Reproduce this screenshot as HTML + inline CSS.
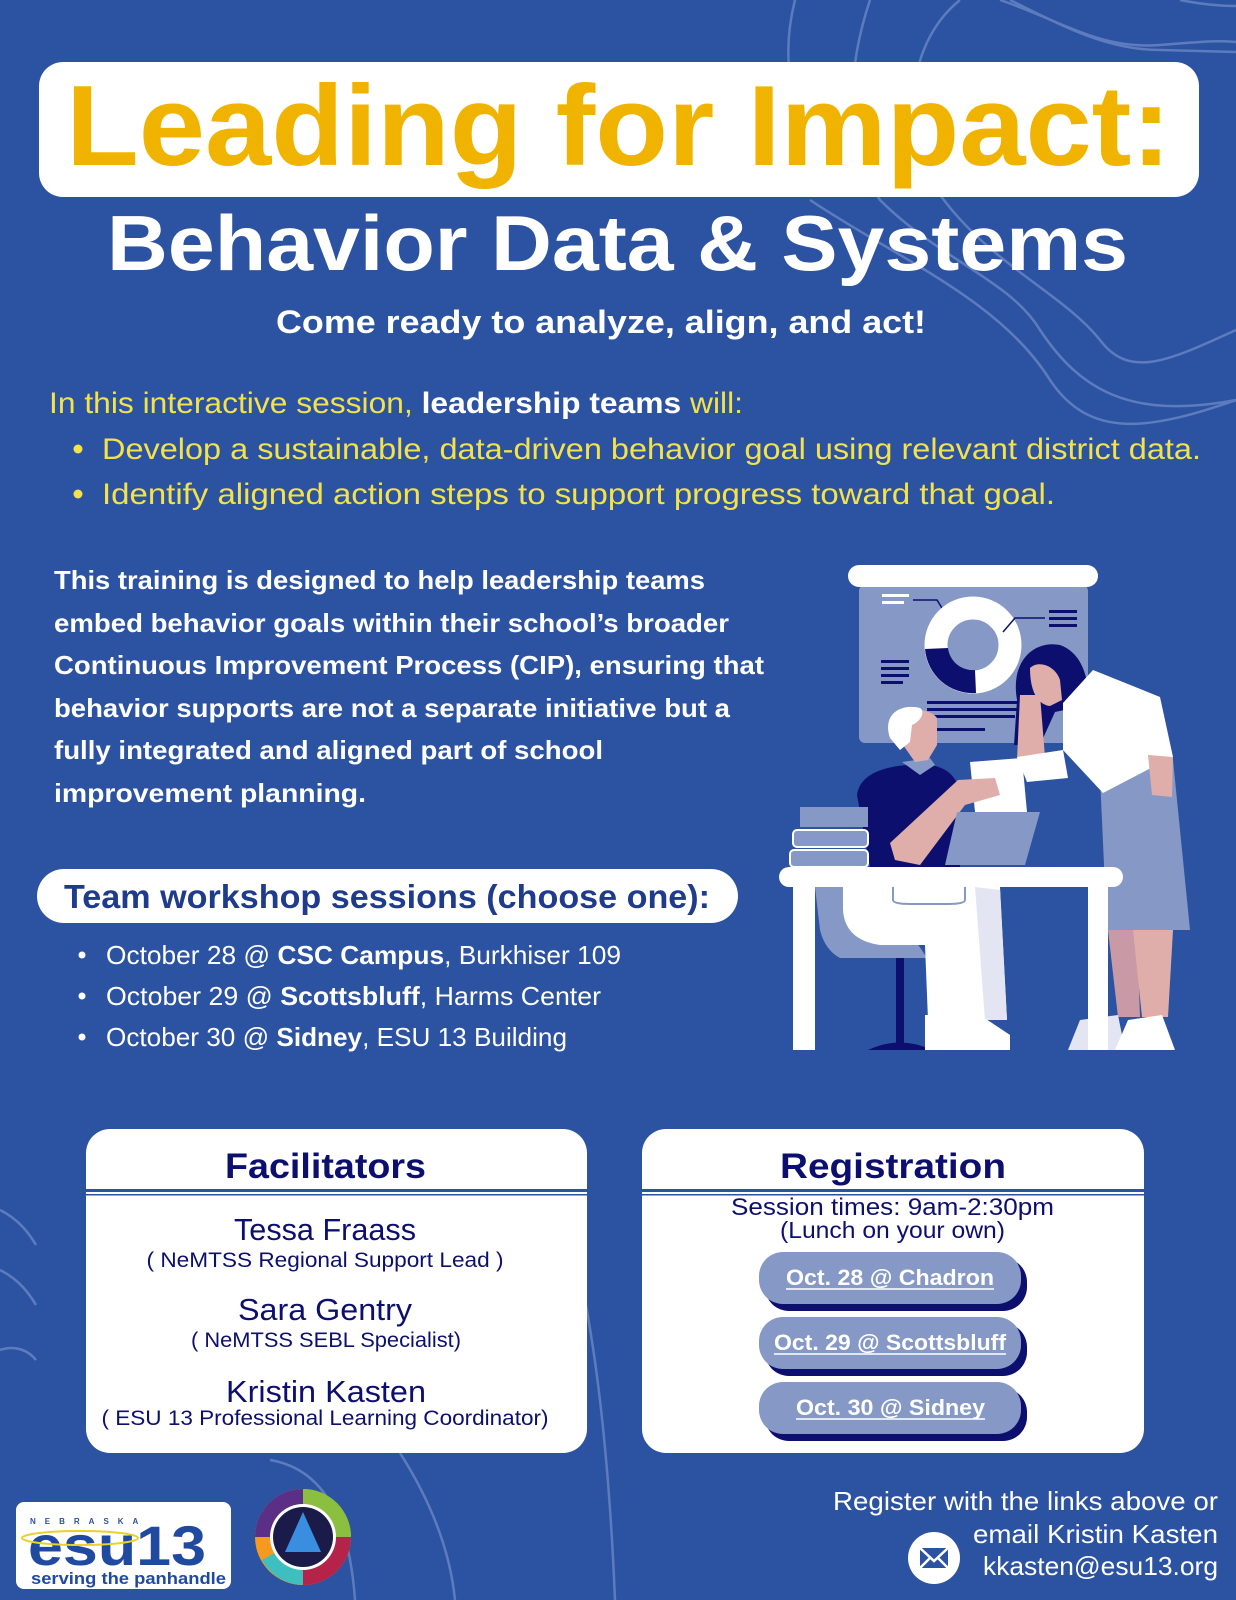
<!DOCTYPE html>
<html><head><meta charset="utf-8"><style>
html,body{margin:0;padding:0;background:#2c52a2;}
svg{display:block;}
text{font-family:"Liberation Sans",sans-serif;}
</style></head><body>
<svg width="1236" height="1600" viewBox="0 0 1236 1600" xmlns="http://www.w3.org/2000/svg">
<rect width="1236" height="1600" fill="#2c52a2"/>
<!-- decorative curves -->
<g fill="none" stroke="#6a87c6" stroke-width="2.5" opacity="0.8">
<path d="M795 0 C780 60 790 120 830 160"/>
<path d="M870 0 C850 60 840 140 880 200 C940 260 1010 280 1040 330 C1080 390 1130 420 1236 400"/>
<path d="M960 0 C910 40 900 120 930 180 C980 260 1060 290 1100 340 C1130 380 1170 360 1236 330"/>
<path d="M1000 0 C1060 20 1100 50 1160 45 C1200 42 1220 40 1236 42"/>
<path d="M1010 0 C1070 30 1110 50 1160 50 L1236 52"/>
<path d="M810 200 C900 260 1000 300 1050 380 C1090 440 1150 430 1236 400"/>
<path d="M1180 0 C1200 4 1220 6 1236 6"/>
<path d="M0 1210 C20 1220 30 1235 36 1245"/>
<path d="M0 1270 C20 1280 30 1295 36 1305"/>
<path d="M0 1350 C15 1345 28 1350 36 1360"/>
<path d="M270 1460 C330 1470 350 1530 355 1600"/>
<path d="M400 1453 C430 1500 450 1550 455 1600"/>
<path d="M585 1300 C600 1380 610 1480 615 1600"/>
</g>

<!-- title -->
<rect x="39" y="62" width="1160" height="135" rx="24" fill="#fff"/>
<text x="66" y="165" font-size="114" font-weight="bold" fill="#f0b400" textLength="1105" lengthAdjust="spacingAndGlyphs">Leading for Impact:</text>
<text x="107" y="270" font-size="78" font-weight="bold" fill="#fff" textLength="1021" lengthAdjust="spacingAndGlyphs">Behavior Data &amp; Systems</text>
<text x="276" y="333" font-size="32" font-weight="bold" fill="#fff" textLength="650" lengthAdjust="spacingAndGlyphs">Come ready to analyze, align, and act!</text>

<text x="49" y="413" font-size="30" fill="#f3e24a" textLength="694" lengthAdjust="spacingAndGlyphs">In this interactive session, <tspan font-weight="bold" fill="#fff">leadership teams</tspan> will:</text>
<circle cx="78" cy="449" r="4.5" fill="#f3e24a"/>
<text x="102" y="459" font-size="30" fill="#f3e24a" textLength="1099" lengthAdjust="spacingAndGlyphs">Develop a sustainable, data-driven behavior goal using relevant district data.</text>
<circle cx="78" cy="494" r="4.5" fill="#f3e24a"/>
<text x="102" y="504" font-size="30" fill="#f3e24a" textLength="953" lengthAdjust="spacingAndGlyphs">Identify aligned action steps to support progress toward that goal.</text>

<g font-size="26" font-weight="bold" fill="#fff">
<text x="54" y="589" textLength="651" lengthAdjust="spacingAndGlyphs">This training is designed to help leadership teams</text>
<text x="54" y="632" textLength="675" lengthAdjust="spacingAndGlyphs">embed behavior goals within their school’s broader</text>
<text x="54" y="674" textLength="710" lengthAdjust="spacingAndGlyphs">Continuous Improvement Process (CIP), ensuring that</text>
<text x="54" y="717" textLength="676" lengthAdjust="spacingAndGlyphs">behavior supports are not a separate initiative but a</text>
<text x="54" y="759" textLength="549" lengthAdjust="spacingAndGlyphs">fully integrated and aligned part of school</text>
<text x="54" y="802" textLength="312" lengthAdjust="spacingAndGlyphs">improvement planning.</text>
</g>

<rect x="37" y="869" width="701" height="54" rx="27" fill="#fff"/>
<text x="64" y="908" font-size="33" font-weight="bold" fill="#1f3c8c" textLength="646" lengthAdjust="spacingAndGlyphs">Team workshop sessions (choose one):</text>

<g font-size="26" fill="#fff">
<circle cx="82" cy="955" r="3.5"/><circle cx="82" cy="996" r="3.5"/><circle cx="82" cy="1037" r="3.5"/>
<text x="106" y="964" textLength="515" lengthAdjust="spacingAndGlyphs">October 28 @ <tspan font-weight="bold">CSC Campus</tspan>, Burkhiser 109</text>
<text x="106" y="1005" textLength="495" lengthAdjust="spacingAndGlyphs">October 29 @ <tspan font-weight="bold">Scottsbluff</tspan>, Harms Center</text>
<text x="106" y="1046" textLength="461" lengthAdjust="spacingAndGlyphs">October 30 @ <tspan font-weight="bold">Sidney</tspan>, ESU 13 Building</text>
</g>

<!-- illustration -->
<g>
<rect x="859" y="585" width="229" height="158" rx="6" fill="#8699c6"/>
<rect x="848" y="565" width="250" height="22" rx="11" fill="#fff"/>
<rect x="882" y="594" width="27" height="3" fill="#fff"/><rect x="882" y="601" width="22" height="3" fill="#fff"/>
<path d="M913 600 L937 600 L945 613" stroke="#0d0f6e" stroke-width="1.5" fill="none"/>
<circle cx="973" cy="645" r="37" fill="none" stroke="#fff" stroke-width="23"/>
<path d="M925 649 A48 48 0 0 0 976 693 L975 670 A25 25 0 0 1 948 648 Z" fill="#0d0f6e"/>
<path d="M1003 632 L1015 618 L1045 618" stroke="#0d0f6e" stroke-width="1.5" fill="none"/>
<rect x="1049" y="610" width="28" height="3" fill="#0d0f6e"/><rect x="1049" y="617" width="28" height="3" fill="#0d0f6e"/><rect x="1049" y="624" width="28" height="3" fill="#0d0f6e"/>
<rect x="881" y="660" width="28" height="3" fill="#0d0f6e"/><rect x="881" y="667" width="28" height="3" fill="#0d0f6e"/><rect x="881" y="674" width="28" height="3" fill="#0d0f6e"/><rect x="881" y="681" width="22" height="3" fill="#0d0f6e"/>
<rect x="927" y="701" width="90" height="3" fill="#0d0f6e"/><rect x="927" y="708" width="90" height="3" fill="#0d0f6e"/><rect x="930" y="715" width="85" height="3" fill="#0d0f6e"/><rect x="935" y="728" width="50" height="3" fill="#0d0f6e"/>
<!-- woman -->
<path d="M1100 777 L1173 760 L1190 930 L1107 930 Z" fill="#8699c6"/>
<path d="M1108 930 L1137 930 L1140 1017 L1118 1017 Z" fill="#c99aa6"/>
<path d="M1133 930 L1173 930 L1168 1017 L1142 1017 Z" fill="#dfaeaa"/>
<path d="M1080 1020 L1118 1015 L1125 1050 L1068 1050 Z" fill="#e3e5f2"/>
<path d="M1128 1020 L1162 1015 L1175 1050 L1115 1050 Z" fill="#fff"/>
<path d="M1017 700 C1010 660 1035 640 1060 645 C1080 652 1090 675 1088 705 L1055 712 L1040 745 L1014 745 Z" fill="#0d0f6e"/>
<path d="M1030 668 C1038 660 1055 665 1060 680 L1062 700 L1050 706 C1040 705 1030 695 1030 668 Z" fill="#dfaeaa"/>
<path d="M1063 703 L1093 670 L1160 697 L1173 757 L1147 770 L1103 793 L1063 750 Z" fill="#fff"/>
<path d="M1020 695 L1040 695 L1045 757 L1017 760 Z" fill="#dfaeaa"/>
<path d="M1017 757 L1063 750 L1068 778 L1027 782 Z" fill="#fff"/>
<path d="M1148 755 L1173 757 L1172 797 L1152 795 Z" fill="#dfaeaa"/>
<!-- paper -->
<path d="M970 762 L1022 758 L1027 812 L975 812 Z" fill="#fff"/>
<!-- chair -->
<path d="M815 887 L880 887 L927 958 L840 958 Q825 950 820 930 Z" fill="#8699c6"/>
<rect x="896" y="958" width="8" height="85" fill="#0d0f6e"/>
<path d="M868 1050 Q900 1035 932 1050 Z" fill="#0d0f6e"/>
<!-- man -->
<path d="M857 795 C860 770 895 763 930 765 C950 768 960 780 960 800 L960 867 L870 867 Z" fill="#0d0f6e"/>
<path d="M902 762 L920 775 L935 765 L930 758 Z" fill="#8699c6"/>
<path d="M903 720 C905 706 930 708 937 718 L937 745 L928 760 L915 762 L903 745 Z" fill="#dfaeaa"/>
<path d="M890 738 C882 715 900 703 920 708 C926 712 920 722 912 725 L910 742 L900 750 Z" fill="#fff"/>
<path d="M890 843 L958 780 L995 778 L1000 795 L965 805 L920 865 L895 860 Z" fill="#dfaeaa"/>
<path d="M843 887 L1000 887 L1007 1020 L928 1020 L925 945 L880 945 Q845 940 843 910 Z" fill="#fff"/>
<path d="M975 887 L1000 890 L1007 1020 L985 1020 Z" fill="#e3e5f2"/>
<path d="M925 1015 L980 1015 L1010 1035 L1010 1050 L925 1050 Z" fill="#fff"/>
<!-- books -->
<rect x="800" y="807" width="68" height="20" fill="#8699c6"/>
<rect x="793" y="830" width="75" height="17" rx="4" fill="#8699c6" stroke="#fff" stroke-width="2"/>
<rect x="790" y="850" width="78" height="17" rx="4" fill="#8699c6" stroke="#fff" stroke-width="2"/>
<!-- laptop -->
<path d="M957 812 L1040 812 L1025 865 L945 865 Z" fill="#8699c6"/>
<!-- desk -->
<rect x="779" y="867" width="344" height="20" rx="10" fill="#fff"/>
<rect x="793" y="885" width="22" height="165" fill="#fff"/>
<rect x="1088" y="885" width="20" height="165" fill="#fff"/>
<path d="M893 887 L893 900 Q893 904 910 904 L948 904 Q965 904 965 900 L965 887" fill="none" stroke="#8699c6" stroke-width="2"/>
</g>

<!-- facilitators -->
<rect x="86" y="1129" width="501" height="324" rx="24" fill="#fff"/>
<rect x="86" y="1189" width="501" height="3" fill="#2c52a2"/>
<rect x="86" y="1194" width="501" height="1.5" fill="#2c52a2"/>
<text x="225" y="1178" font-size="35" font-weight="bold" fill="#0d0f6e" textLength="201" lengthAdjust="spacingAndGlyphs">Facilitators</text>
<g fill="#0d0f6e" text-anchor="middle">
<text x="325" y="1240" font-size="31" textLength="182" lengthAdjust="spacingAndGlyphs">Tessa Fraass</text>
<text x="325" y="1267" font-size="21" textLength="357" lengthAdjust="spacingAndGlyphs">( NeMTSS Regional Support Lead )</text>
<text x="325" y="1320" font-size="31" textLength="174" lengthAdjust="spacingAndGlyphs">Sara Gentry</text>
<text x="326" y="1347" font-size="21" textLength="270" lengthAdjust="spacingAndGlyphs">( NeMTSS SEBL Specialist)</text>
<text x="326" y="1402" font-size="31" textLength="200" lengthAdjust="spacingAndGlyphs">Kristin Kasten</text>
<text x="325" y="1425" font-size="21" textLength="447" lengthAdjust="spacingAndGlyphs">( ESU 13 Professional Learning Coordinator)</text>
</g>

<!-- registration -->
<rect x="642" y="1129" width="502" height="324" rx="24" fill="#fff"/>
<rect x="642" y="1189" width="502" height="3" fill="#2c52a2"/>
<rect x="642" y="1194" width="502" height="1.5" fill="#2c52a2"/>
<text x="780" y="1178" font-size="35" font-weight="bold" fill="#0d0f6e" textLength="226" lengthAdjust="spacingAndGlyphs">Registration</text>
<text x="731" y="1215" font-size="24" fill="#0d0f6e" textLength="323" lengthAdjust="spacingAndGlyphs">Session times: 9am-2:30pm</text>
<text x="780" y="1238" font-size="23" fill="#0d0f6e" textLength="225" lengthAdjust="spacingAndGlyphs">(Lunch on your own)</text>
<g>
<rect x="765" y="1258" width="262" height="53" rx="24" fill="#0d0f6e"/>
<rect x="759" y="1252" width="262" height="52" rx="24" fill="#8699c6"/>
<rect x="765" y="1323" width="262" height="53" rx="24" fill="#0d0f6e"/>
<rect x="759" y="1317" width="262" height="52" rx="24" fill="#8699c6"/>
<rect x="765" y="1388" width="262" height="53" rx="24" fill="#0d0f6e"/>
<rect x="759" y="1382" width="262" height="52" rx="24" fill="#8699c6"/>
</g>
<g font-size="22" font-weight="bold" fill="#fff">
<text x="786" y="1285" textLength="208" lengthAdjust="spacingAndGlyphs">Oct. 28 @ Chadron</text>
<text x="774" y="1350" textLength="232" lengthAdjust="spacingAndGlyphs">Oct. 29 @ Scottsbluff</text>
<text x="796" y="1415" textLength="189" lengthAdjust="spacingAndGlyphs">Oct. 30 @ Sidney</text>
</g>
<g stroke="#fff" stroke-width="1.5">
<line x1="786" y1="1289" x2="994" y2="1289"/><line x1="774" y1="1354" x2="1006" y2="1354"/><line x1="796" y1="1419" x2="985" y2="1419"/>
</g>

<!-- logos -->
<rect x="16" y="1502" width="215" height="87" rx="8" fill="#fff"/>
<text x="30" y="1524" font-size="8" font-weight="bold" fill="#2c52a2" letter-spacing="9">NEBRASKA</text>
<text x="28" y="1565" font-size="56" font-weight="bold" fill="#1f4aa0" textLength="178" lengthAdjust="spacingAndGlyphs">esu13</text>
<ellipse cx="80" cy="1538" rx="58" ry="7" fill="none" stroke="#e8d22a" stroke-width="2"/>
<text x="31" y="1584" font-size="17" font-weight="bold" fill="#1f4aa0" textLength="195" lengthAdjust="spacingAndGlyphs">serving the panhandle</text>
<circle cx="303" cy="1537" r="48" fill="#f39a1f"/>
<path d="M303 1489 A48 48 0 0 1 351 1537 L303 1537 Z" fill="#8bbf3f"/>
<path d="M351 1537 A48 48 0 0 1 303 1585 L303 1537 Z" fill="#b5234a"/>
<path d="M303 1585 A48 48 0 0 1 262 1560 L303 1537 Z" fill="#3dbfbf"/>
<path d="M255 1537 A48 48 0 0 1 303 1489 L303 1537 Z" fill="#5b2f86"/>
<circle cx="303" cy="1537" r="33" fill="#fff"/>
<circle cx="303" cy="1537" r="30" fill="#1b1b4a"/>
<path d="M303 1512 L321 1552 L285 1552 Z" fill="#3a8ee0"/>

<g font-size="26" fill="#fff" text-anchor="end">
<text x="1218" y="1510" textLength="385" lengthAdjust="spacingAndGlyphs">Register with the links above or</text>
<text x="1218" y="1543" textLength="245" lengthAdjust="spacingAndGlyphs">email Kristin Kasten</text>
<text x="1218" y="1575" textLength="235" lengthAdjust="spacingAndGlyphs">kkasten@esu13.org</text>
</g>
<circle cx="934" cy="1558" r="26" fill="#fff"/>
<rect x="920" y="1548" width="28" height="20" fill="#2c52a2"/>
<path d="M920 1548 L934 1561 L948 1548 M920 1568 L930 1558 M948 1568 L938 1558" stroke="#fff" stroke-width="2.5" fill="none"/>
</svg>
</body></html>
